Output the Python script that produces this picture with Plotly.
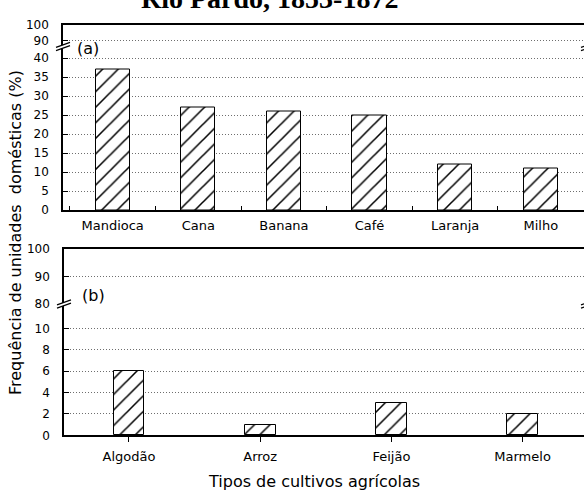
import plotly.graph_objects as go

# Frequency of households growing each crop (%), Rio Pardo 1853-1872
crops_a = ["Mandioca", "Cana", "Banana", "Café", "Laranja", "Milho"]
freq_a = [37, 27, 26, 25, 12, 11]
crops_b = ["Algodão", "Arroz", "Feijão", "Marmelo"]
freq_b = [6, 1, 3, 2]

ticks_a_low = list(range(0, 41, 5))
ticks_a_high = [90, 100]
ticks_b_low = list(range(0, 11, 2))
ticks_b_high = [80, 90, 100]

W, H = 584, 493
FONT = "DejaVu Sans"
GRID_COLOR = "#6e6e6e"
GRID_DASH = "1px,2px"


def fx(p):
    return p / W


def fy(p):
    return 1 - p / H


bar_style = dict(
    color="white",
    line=dict(color="black", width=1),
    pattern=dict(shape="/", fgcolor="black", bgcolor="white", size=11, solidity=0.14),
)

fig = go.Figure()
fig.add_trace(go.Bar(x=crops_a, y=freq_a, width=0.4, marker=bar_style,
                     xaxis="x", yaxis="y", showlegend=False))
fig.add_trace(go.Scatter(x=[], y=[], xaxis="x2", yaxis="y2", showlegend=False))
fig.add_trace(go.Bar(x=crops_b, y=freq_b, width=0.234, marker=bar_style,
                     xaxis="x3", yaxis="y3", showlegend=False))
fig.add_trace(go.Scatter(x=[], y=[], xaxis="x4", yaxis="y4", showlegend=False))

axis_line = dict(showline=True, linecolor="black", linewidth=1.5, zeroline=False,
                 automargin=False)
grid = dict(showgrid=True, gridcolor=GRID_COLOR, gridwidth=1, griddash=GRID_DASH)
ytick = dict(ticks="inside", ticklen=5, tickcolor="black", tickwidth=1,
             tickfont=dict(family=FONT, size=12, color="black"), ticklabelstandoff=10)

# Pixel positions of the two broken-axis panels
a_left, b_left = 63, 64
a_break, a_top, a_bottom = 46.5, 25, 210
b_break, b_top, b_bottom = 304, 249, 435.3

fig.update_layout(
    template="none",
    width=W, height=H,
    margin=dict(l=0, r=0, t=0, b=0, autoexpand=False),
    paper_bgcolor="white", plot_bgcolor="white",
    bargap=0,
    xaxis=dict(domain=[fx(a_left), 1], anchor="y", type="category",
               categoryorder="array", categoryarray=crops_a,
               range=[-0.58, 5.505], ticks="inside", tickson="boundaries",
               ticklen=4, tickcolor="black", showgrid=False,
               tickfont=dict(family=FONT, size=13, color="black"),
               ticklabelstandoff=3, **axis_line),
    yaxis=dict(domain=[fy(a_bottom), fy(a_break)], anchor="x", range=[0, 43.1],
               tickvals=ticks_a_low, **ytick, **grid, **axis_line),
    xaxis2=dict(domain=[fx(a_left), 1], anchor="y2", range=[-0.58, 5.505],
                side="top", showticklabels=False, ticks="", showgrid=False, **axis_line),
    yaxis2=dict(domain=[fy(a_break), fy(a_top)], anchor="x2", range=[86.3, 100],
                tickvals=ticks_a_high, **ytick, **grid, **axis_line),
    xaxis3=dict(domain=[fx(b_left), 1], anchor="y3", type="category",
                categoryorder="array", categoryarray=crops_b,
                range=[-0.495, 3.468], ticks="outside", ticklen=5,
                tickcolor="black", showgrid=False,
                tickfont=dict(family=FONT, size=13, color="black"),
                ticklabelstandoff=3, **axis_line),
    yaxis3=dict(domain=[fy(b_bottom), fy(b_break)], anchor="x3", range=[0, 12.3],
                tickvals=ticks_b_low, **ytick, **grid, **axis_line),
    xaxis4=dict(domain=[fx(b_left), 1], anchor="y4", range=[-0.495, 3.468],
                side="top", showticklabels=False, ticks="", showgrid=False, **axis_line),
    yaxis4=dict(domain=[fy(b_break), fy(b_top)], anchor="x4", range=[80, 100],
                tickvals=ticks_b_high, showgrid=False, **ytick, **axis_line),
)

shapes = [
    dict(type="line", xref="x4 domain", yref="y4", x0=0, x1=1, y0=90, y1=90,
         line=dict(color=GRID_COLOR, width=1, dash=GRID_DASH), layer="below"),
]


def axis_break(xp, yp):
    """Two slanted strokes with a white gap, marking an interrupted axis."""
    out = []
    dx, dy, gap = 7, 2.5, 1.6
    path = (f"M {fx(xp - dx)},{fy(yp + dy - gap)} L {fx(xp + dx)},{fy(yp - dy - gap)} "
            f"L {fx(xp + dx)},{fy(yp - dy + gap)} L {fx(xp - dx)},{fy(yp + dy + gap)} Z")
    out.append(dict(type="path", xref="paper", yref="paper", path=path,
                    fillcolor="white", line=dict(width=0)))
    for s in (-gap, gap):
        out.append(dict(type="line", xref="paper", yref="paper",
                        x0=fx(xp - dx), y0=fy(yp + dy + s),
                        x1=fx(xp + dx), y1=fy(yp - dy + s),
                        line=dict(color="black", width=1.2)))
    return out


for xp, yp in [(a_left, a_break), (588, a_break), (b_left, b_break), (588, b_break)]:
    shapes += axis_break(xp, yp)
fig.update_layout(shapes=shapes)

annotations = [
    dict(text="<b>Rio Pardo, 1853-1872</b>", x=fx(269), y=fy(-2),
         xref="paper", yref="paper", xanchor="center", yanchor="middle",
         showarrow=False, font=dict(family="Liberation Serif", size=28, color="black")),
    dict(text="(a)", x=fx(88), y=fy(48), xref="paper", yref="paper",
         xanchor="center", yanchor="middle", showarrow=False,
         font=dict(family=FONT, size=16, color="black")),
    dict(text="(b)", x=fx(93), y=fy(295), xref="paper", yref="paper",
         xanchor="center", yanchor="middle", showarrow=False,
         font=dict(family=FONT, size=16, color="black")),
    dict(text="Tipos de cultivos agrícolas", x=fx(314), y=fy(481), xref="paper",
         yref="paper", xanchor="center", yanchor="middle", showarrow=False,
         font=dict(family=FONT, size=16, color="black")),
    dict(text="Frequência de unidades  domésticas (%)", x=fx(16), y=fy(233),
         xref="paper", yref="paper", xanchor="center", yanchor="middle",
         textangle=-90, showarrow=False,
         font=dict(family=FONT, size=16, color="black")),
]
fig.update_layout(annotations=annotations)

fig.write_html("out.html")
